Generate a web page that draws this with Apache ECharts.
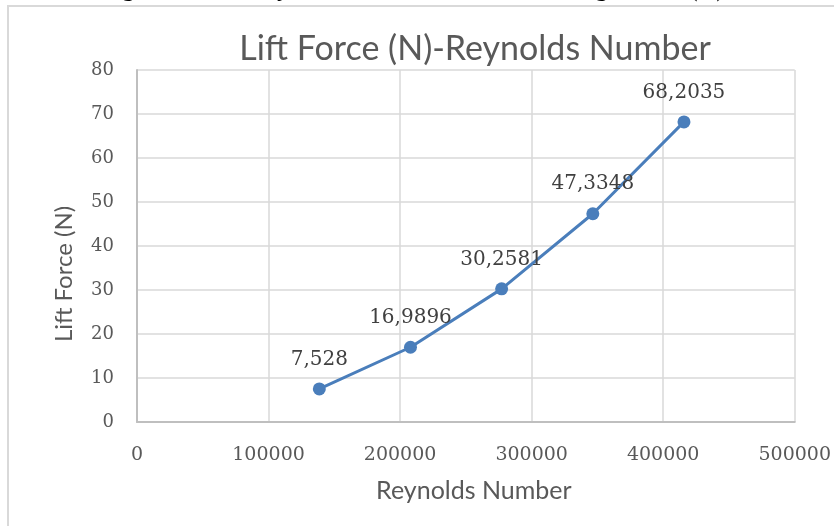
<!DOCTYPE html>
<html>
<head>
<meta charset="utf-8">
<script src="https://cdn.jsdelivr.net/npm/echarts@6/dist/echarts.min.js"></script>
<style>
  html, body { margin: 0; padding: 0; background: #fff; }
  #chart { width: 834px; height: 526px; }
</style>
</head>
<body>
<div id="chart"></div>
<script>
// Reynolds number (x) and lift force in N (y)
const reynolds = [138600, 207900, 277200, 346500, 415800]
const liftForce = [7.528, 16.9896, 30.2581, 47.3348, 68.2035]
const liftLabels = ['7,528', '16,9896', '30,2581', '47,3348', '68,2035']

const chart = echarts.init(document.getElementById('chart'))

const option = {
  animation: false,
  title: {
    text: 'Lift Force (N)-Reynolds Number',
    left: 470,
    top: 27,
    textAlign: 'center',
    textStyle: {
      fontFamily: 'Lato',
      fontWeight: 'normal',
      fontSize: 34,
      color: '#595959'
    }
  },
  graphic: [
    {
      // frame round the chart area
      type: 'rect',
      shape: { x: 8, y: 6, width: 900, height: 600 },
      style: { fill: 'none', stroke: '#d9d9d9', lineWidth: 2 },
      silent: true
    },
    {
      // caption of the page above, cut off
      type: 'text',
      x: 100,
      y: -24,
      style: {
        text: 'Figure 5. Lift-Reynolds Number Curve for Wing Model (N)',
        font: '26px "Liberation Serif"',
        fill: '#000',
        verticalAlign: 'top'
      },
      silent: true
    },
    {
      type: 'text',
      x: 64,
      y: 274,
      rotation: Math.PI / 2,
      style: {
        text: 'Lift Force (N)',
        font: '24px Lato',
        fill: '#595959',
        align: 'center',
        verticalAlign: 'middle'
      },
      silent: true
    }
  ],
  grid: {
    left: 137,
    right: 39,
    top: 70,
    bottom: 104
  },
  xAxis: {
    type: 'value',
    min: 0,
    max: 500000,
    interval: 100000,
    name: 'Reynolds Number',
    nameLocation: 'middle',
    nameGap: 56,
    nameTextStyle: {
      fontFamily: 'Lato',
      fontSize: 25,
      color: '#595959',
      padding: [0, 0, 0, 16]
    },
    axisLine: { show: true, lineStyle: { color: '#bfbfbf', width: 2 } },
    axisTick: { show: false },
    axisLabel: {
      margin: 24,
      fontFamily: 'DejaVu Serif',
      fontSize: 19,
      color: '#595959',
      formatter: (v) => String(v)
    },
    splitLine: { show: true, lineStyle: { color: '#d9d9d9', width: 1.5 } }
  },
  yAxis: {
    type: 'value',
    min: 0,
    max: 80,
    interval: 10,
    axisLine: { show: true, lineStyle: { color: '#bfbfbf', width: 2 } },
    axisTick: { show: false },
    axisLabel: {
      margin: 23,
      fontFamily: 'DejaVu Serif',
      fontSize: 18,
      color: '#595959'
    },
    splitLine: { show: true, lineStyle: { color: '#d9d9d9', width: 1.5 } }
  },
  series: [
    {
      type: 'line',
      data: reynolds.map((r, i) => [r, liftForce[i]]),
      symbol: 'circle',
      symbolSize: 13,
      lineStyle: { color: '#4a7ebb', width: 3 },
      itemStyle: { color: '#4a7ebb' },
      label: {
        show: true,
        position: 'top',
        distance: 13,
        fontFamily: 'DejaVu Serif',
        fontSize: 20,
        color: '#404040',
        formatter: (p) => liftLabels[p.dataIndex]
      }
    }
  ]
}

chart.setOption(option)
</script>
</body>
</html>
